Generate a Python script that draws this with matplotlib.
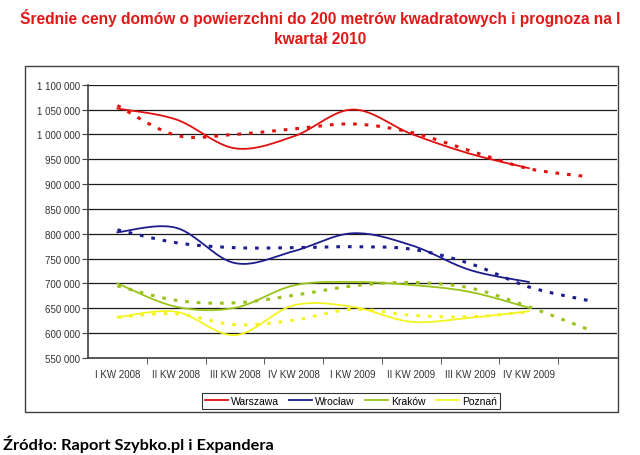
import numpy as np
import matplotlib
matplotlib.use("Agg")
import matplotlib.pyplot as plt
from matplotlib.patches import Rectangle
from matplotlib.lines import Line2D

# quarters (the 9th slot is the forecast quarter, no label on the axis)
quarters = ["I KW 2008", "II KW 2008", "III KW 2008", "IV KW 2008",
            "I KW 2009", "II KW 2009", "III KW 2009", "IV KW 2009", ""]

# actual prices (8 quarters)
warszawa = [1052000, 1030000, 972000, 996000, 1050000, 1001000, 961000, 932000]
wroclaw = [803000, 812000, 741000, 765000, 801000, 777000, 727000, 703000]
krakow = [700000, 653000, 651000, 696000, 703000, 697000, 683000, 651000]
poznan = [632000, 643000, 596000, 656000, 653000, 623000, 631000, 644000]

# dotted trend / forecast
warszawa_f = [1058000, 998000, 1000000, 1011000, 1021000, 1004000, 967000, 931000, 915000]
wroclaw_f = [808000, 782000, 772000, 772000, 774000, 769000, 740000, 693000, 666000]
krakow_f = [695000, 666000, 661000, 676000, 695000, 702000, 691000, 653000, 608000]
poznan_f = [632000, 639000, 617000, 626000, 648000, 636000, 633000, 643000]

names = ["Warszawa", "Wrocław", "Kraków", "Poznań"]
colors = ["#e01010", "#1c1c8c", "#99c31a", "#f4f420"]


def smooth(y, n=20):
    # catmull-rom curve through the points, like excel "smoothed line"
    y = np.asarray(y, float)
    x = np.arange(len(y), dtype=float)
    p = np.column_stack([x, y])
    p = np.vstack([p[0], p, p[-1]])
    out = []
    for i in range(1, len(p) - 2):
        p0, p1, p2, p3 = p[i - 1], p[i], p[i + 1], p[i + 2]
        t = np.linspace(0, 1, n)[:, None]
        c = 0.5 * ((2 * p1) + (-p0 + p2) * t + (2 * p0 - 5 * p1 + 4 * p2 - p3) * t ** 2
                   + (-p0 + 3 * p1 - 3 * p2 + p3) * t ** 3)
        out.append(c)
    c = np.vstack(out)
    return c[:, 0], c[:, 1]


plt.rcParams["font.family"] = ["Liberation Sans", "DejaVu Sans"]
fig = plt.figure(figsize=(6.4, 4.56), dpi=100)

# outer chart frame
fig.patches.append(Rectangle((25 / 640, 1 - 413 / 456), 593 / 640, 346 / 456,
                             transform=fig.transFigure, fill=False,
                             edgecolor="#404040", linewidth=1.0))

ax = fig.add_axes([88 / 640, 1 - 359 / 456, 529 / 640, 273.3 / 456])

for v in range(550000, 1100001, 50000):
    ax.axhline(v, color="#1a1a1a", linewidth=0.9, zorder=1)

series = [warszawa, wroclaw, krakow, poznan]
forecasts = [warszawa_f, wroclaw_f, krakow_f, poznan_f]
for s, f, c in zip(series, forecasts, colors):
    fx, fy = smooth(f)
    ax.plot(fx, fy, color=c, linewidth=2.2, linestyle=(0, (1.2, 2.6)),
            dash_capstyle="butt", zorder=2)
    sx, sy = smooth(s)
    ax.plot(sx, sy, color=c, linewidth=1.3, zorder=3)

ax.set_xlim(-0.5, 8.5)
ax.set_ylim(550000, 1100000)
ax.set_yticks(range(550000, 1100001, 50000))
ax.set_yticklabels(["{:,}".format(v).replace(",", " ") for v in range(550000, 1100001, 50000)])
ax.set_xticks(range(9))
ax.set_xticklabels(quarters)
ax.set_xticks(np.arange(0.5, 8.5, 1), minor=True)
ax.tick_params(axis="x", which="major", length=0, pad=8, labelsize=7, labelcolor="#333333")
ax.tick_params(axis="x", which="minor", length=4, direction="out", color="#404040")
ax.tick_params(axis="y", length=4, direction="out", color="#404040", labelsize=7,
               labelcolor="#333333", pad=2)
for sp in ["top", "right"]:
    ax.spines[sp].set_visible(False)
for sp in ["left", "bottom"]:
    ax.spines[sp].set_color("#404040")
    ax.spines[sp].set_linewidth(1.2)

handles = [Line2D([], [], color=c, linewidth=1.3) for c in colors]
leg = fig.legend(handles, names, loc="center", bbox_to_anchor=(351 / 640, 1 - 402 / 456),
                 ncol=4, fontsize=7.5, frameon=True, fancybox=False, edgecolor="black",
                 handlelength=2.2, handletextpad=0.3, columnspacing=1.0,
                 borderpad=0.25)
leg.get_frame().set_linewidth(0.8)

fig.text(0.5, 1 - 18 / 456, "Średnie ceny domów o powierzchni do 200 metrów kwadratowych i prognoza na I",
         ha="center", va="center", color="#e01818", fontsize=11.2, fontweight="bold")
fig.text(0.5, 1 - 39 / 456, "kwartał 2010",
         ha="center", va="center", color="#e01818", fontsize=11.2, fontweight="bold")

fig.text(3 / 640, 1 - 444 / 456, "Źródło: Raport Szybko.pl i Expandera",
         ha="left", va="center", color="black", fontsize=11.8, fontweight="bold",
         family=["Lato", "DejaVu Sans"])

fig.savefig("out.png", dpi=100)
